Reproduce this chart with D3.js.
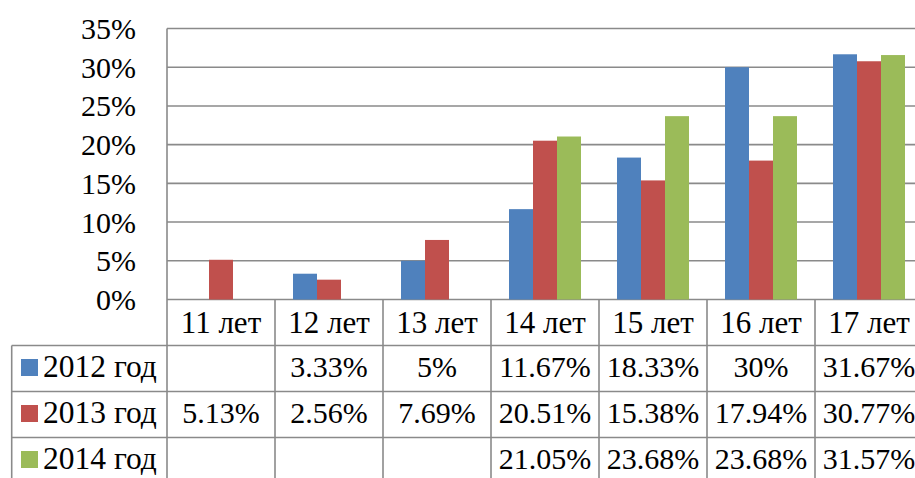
<!DOCTYPE html>
<html>
<head>
<meta charset="utf-8">
<script src="https://cdnjs.cloudflare.com/ajax/libs/d3/7.8.5/d3.min.js"></script>
<style>
  body { margin: 0; background: #fff; }
</style>
</head>
<body>
<div id="chart"></div>
<script>
// data
var categories = ["11 лет", "12 лет", "13 лет", "14 лет", "15 лет", "16 лет", "17 лет"];
var seriesNames = ["2012 год", "2013 год", "2014 год"];
var values2012 = [null, 3.33, 5, 11.67, 18.33, 30, 31.67];
var values2013 = [5.13, 2.56, 7.69, 20.51, 15.38, 17.94, 30.77];
var values2014 = [null, null, null, 21.05, 23.68, 23.68, 31.57];
var labels2012 = ["", "3.33%", "5%", "11.67%", "18.33%", "30%", "31.67%"];
var labels2013 = ["5.13%", "2.56%", "7.69%", "20.51%", "15.38%", "17.94%", "30.77%"];
var labels2014 = ["", "", "", "21.05%", "23.68%", "23.68%", "31.57%"];
var yTicks = [0, 5, 10, 15, 20, 25, 30, 35];
var colors = ["#4f81bd", "#c0504d", "#9bbb59"];

function draw() {
    var w = 915;
    var h = 478;
    var gridColor = "#8a8a8a";
    var font = "'Liberation Serif'";

    var svg = d3.select("#chart")
        .append("svg")
        .attr("width", w)
        .attr("height", h)
        .style("display", "block");

    // plot area
    var left = 167, top = 28.5, bottom = 299.5, step = 108;

    var x = d3.scaleBand()
        .domain(categories)
        .range([left, left + step * categories.length]);

    var xInner = d3.scaleBand()
        .domain(seriesNames)
        .range([0, x.bandwidth()])
        .paddingOuter(0.75);

    var y = d3.scaleLinear()
        .domain([0, 35])
        .range([bottom, top]);

    // gridlines
    svg.selectAll("line.grid")
        .data(yTicks)
        .enter()
        .append("line")
        .attr("class", "grid")
        .attr("x1", left)
        .attr("x2", w + 20)
        .attr("y1", function(d) { return y(d); })
        .attr("y2", function(d) { return y(d); })
        .attr("stroke", gridColor)
        .attr("stroke-width", 1.6);

    // y tick labels
    svg.selectAll("text.ytick")
        .data(yTicks)
        .enter()
        .append("text")
        .attr("class", "ytick")
        .attr("x", 136)
        .attr("y", function(d) { return y(d) + 10.5; })
        .attr("text-anchor", "end")
        .style("font-family", font)
        .style("font-size", "30px")
        .attr("fill", "#000")
        .text(function(d) { return d + "%"; });

    // bars
    var allValues = [values2012, values2013, values2014];
    seriesNames.forEach(function(s, si) {
        var vals = categories.map(function(c, i) { return { cat: c, v: allValues[si][i] }; })
            .filter(function(d) { return d.v != null; });
        svg.selectAll("rect.s" + si)
            .data(vals)
            .enter()
            .append("rect")
            .attr("class", "s" + si)
            .attr("x", function(d) { return x(d.cat) + xInner(s); })
            .attr("width", xInner.bandwidth())
            .attr("y", function(d) { return y(d.v); })
            .attr("height", function(d) { return y(0) - y(d.v); })
            .attr("fill", colors[si]);
    });

    // data table
    var headTop = bottom, headBottom = 345.5, rowH = 46;
    var tableLeft = 11.7;
    var rowTops = seriesNames.map(function(s, i) { return headBottom + i * rowH; });

    // horizontal lines of table rows
    svg.selectAll("line.row")
        .data(rowTops.concat([headBottom + 3 * rowH]))
        .enter()
        .append("line")
        .attr("x1", tableLeft)
        .attr("x2", w + 20)
        .attr("y1", function(d) { return d; })
        .attr("y2", function(d) { return d; })
        .attr("stroke", gridColor)
        .attr("stroke-width", 1.6);

    // vertical lines: axis + category borders
    var borders = [left].concat(categories.map(function(c) { return x(c) + x.bandwidth(); }));
    svg.selectAll("line.vcol")
        .data(borders)
        .enter()
        .append("line")
        .attr("x1", function(d) { return d; })
        .attr("x2", function(d) { return d; })
        .attr("y1", function(d, i) { return i == 0 ? top : headTop; })
        .attr("y2", h + 10)
        .attr("stroke", gridColor)
        .attr("stroke-width", 1.6);

    // table left border
    svg.append("line")
        .attr("x1", tableLeft)
        .attr("x2", tableLeft)
        .attr("y1", headBottom)
        .attr("y2", h + 10)
        .attr("stroke", gridColor)
        .attr("stroke-width", 1.6);

    // category header
    svg.selectAll("text.cat")
        .data(categories)
        .enter()
        .append("text")
        .attr("x", function(d) { return x(d) + x.bandwidth() / 2; })
        .attr("y", headTop + 33.5)
        .attr("text-anchor", "middle")
        .style("font-family", font)
        .style("font-size", "31px")
        .text(function(d) { return d; });

    // legend keys and names
    var allLabels = [labels2012, labels2013, labels2014];
    seriesNames.forEach(function(s, si) {
        var rt = rowTops[si];
        svg.append("rect")
            .attr("x", 21)
            .attr("y", rt + 13.5)
            .attr("width", 17)
            .attr("height", 17)
            .attr("fill", colors[si]);
        svg.append("text")
            .attr("x", 43)
            .attr("y", rt + 31)
            .style("font-family", font)
            .style("font-size", "31.5px")
            .text(s);
        svg.selectAll("text.val" + si)
            .data(allLabels[si])
            .enter()
            .append("text")
            .attr("x", function(d, i) { return x(categories[i]) + x.bandwidth() / 2; })
            .attr("y", rt + 31)
            .attr("text-anchor", "middle")
            .style("font-family", font)
            .style("font-size", "30px")
            .text(function(d) { return d; });
    });
}

window.onload = draw;
</script>
</body>
</html>
